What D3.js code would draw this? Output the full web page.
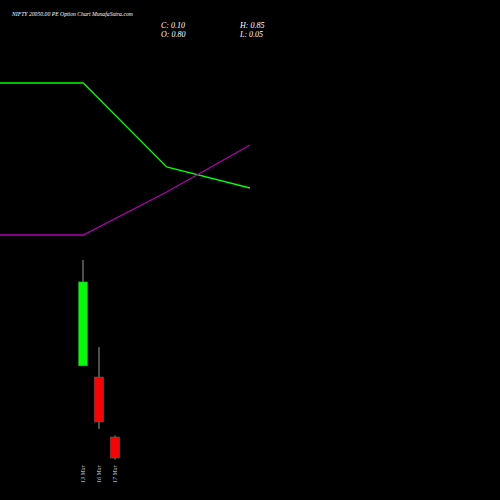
<!DOCTYPE html>
<html><head><meta charset="utf-8">
<script src="https://cdn.jsdelivr.net/npm/d3@7"></script>
<style>body{margin:0;background:#000}</style>
</head><body><svg id="c" width="500" height="500"></svg>
<script>
"use strict";

// candles
let dates = ['13 Mar', '16 Mar', '17 Mar'];
let opens = [3.17, 2.8, 0.80];
let closes = [5.97, 1.3, 0.10];
let highs = [6.7, 3.8, 0.85];
let lows = [3.17, 1.07, 0.05];

// lines (index positions)
let lineIdx = [0, 1, 2, 3];
let greenLine = [417, 417, 333, 312];
let purpleLine = [265, 265, 308, 355];

let svg = d3.select('#c');
svg.append('rect').attr('width', 500).attr('height', 500).attr('fill', '#000');

let y = d3.scaleLinear().domain([0, 1]).range([461, 431]);
let x = d3.scalePoint().domain(dates).range([83, 115]);
let lx = d3.scaleLinear().domain([0, 3]).range([0, 250]);
let ly = d3.scaleLinear().domain([0, 500]).range([500, 0]);

let line = d3.line().x((d, i) => lx(lineIdx[i])).y(d => ly(d));
svg.append('path').attr('d', line(greenLine)).attr('fill', 'none').attr('stroke', '#00ff00').attr('stroke-width', 1.3);
svg.append('path').attr('d', line(purpleLine)).attr('fill', 'none').attr('stroke', '#b000b0').attr('stroke-width', 1.3);

dates.forEach((d, i) => {
    let up = closes[i] >= opens[i];
    svg.append('line').attr('x1', x(d)).attr('x2', x(d))
        .attr('y1', y(highs[i])).attr('y2', y(lows[i])).attr('stroke', '#999');
    svg.append('rect').attr('x', x(d) - 4.5).attr('width', 9)
        .attr('y', y(Math.max(opens[i], closes[i])))
        .attr('height', Math.abs(y(opens[i]) - y(closes[i])))
        .attr('fill', up ? '#00ff00' : '#ff0000').attr('stroke', '#666').attr('stroke-width', 0.5);
    svg.append('text').attr('transform', `translate(${x(d) + 2},483) rotate(-90)`)
        .attr('fill', '#ccc').attr('font-family', 'Liberation Serif').attr('font-style', 'italic')
        .attr('font-size', 6).text(d);
});

let t = (s, tx, ty, fs) => svg.append('text').attr('x', tx).attr('y', ty).attr('fill', '#fff')
    .attr('font-family', 'Liberation Serif').attr('font-style', 'italic').attr('font-size', fs).text(s);
t('NIFTY 20050.00  PE Option  Chart MunafaSutra.com', 12, 16, 5.7);
t('C: 0.10', 161, 28, 8);
t('O: 0.80', 161, 37, 8);
t('H: 0.85', 240, 28, 8);
t('L: 0.05', 240, 37, 8);
</script></body></html>
